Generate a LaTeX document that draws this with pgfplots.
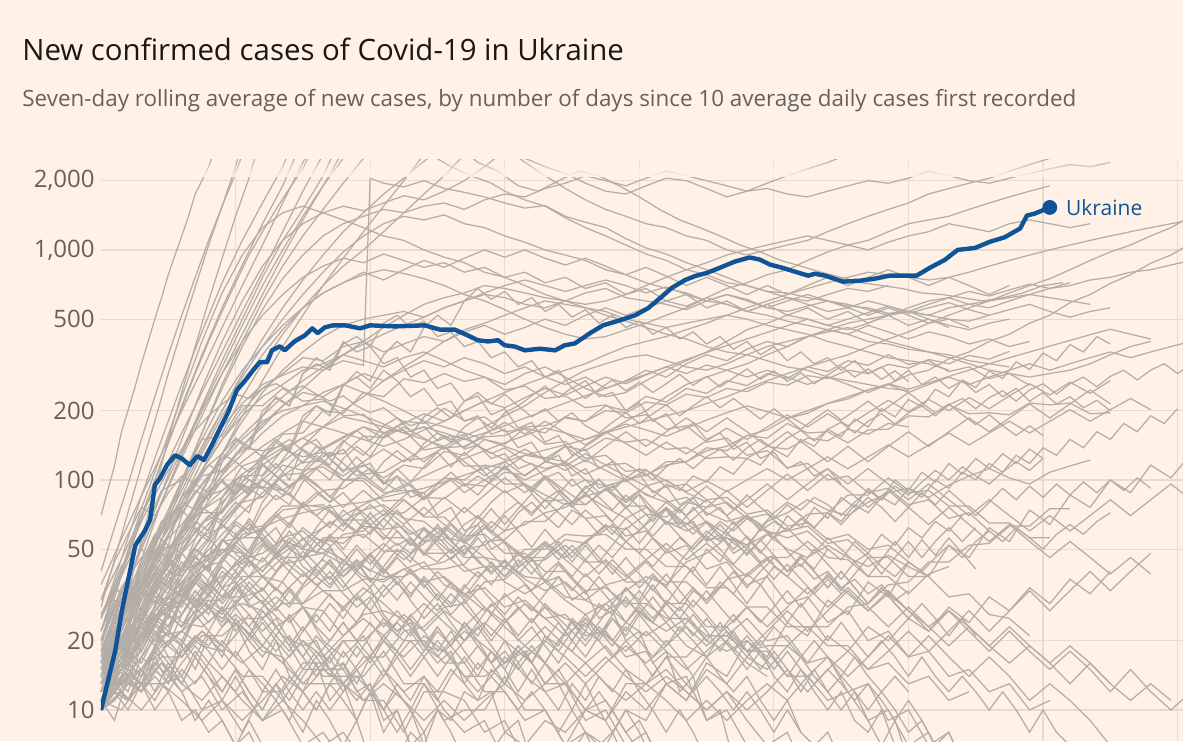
\documentclass[border=0pt]{standalone}
\usepackage{pgfplots}
\pgfplotsset{compat=1.18}
\usepackage{fontspec}
\setmainfont{Open Sans}
\usetikzlibrary{fadings}
\definecolor{bgc}{HTML}{FFF1E5}
\definecolor{grayc}{HTML}{B4ADA7}
\definecolor{gridc}{HTML}{E7DBCF}
\definecolor{tickc}{HTML}{66605C}
\definecolor{titlec}{HTML}{1A1817}
\definecolor{ukc}{HTML}{0F5499}
\pgfplotsset{gl/.style={color=grayc, line width=0.62pt, no markers}}
\begin{document}
\begin{tikzpicture}
\fill[bgc] (0,0) rectangle (591.5pt,370.5pt);
\useasboundingbox (0,0) rectangle (591.5pt,370.5pt);
\node[anchor=base west, inner sep=0pt, text=titlec, font=\fontsize{14.7}{18}\selectfont] at (11pt,340.5pt) {New confirmed cases of Covid-19 in Ukraine};
\node[anchor=base west, inner sep=0pt, text=tickc, font=\fontsize{11.2}{13}\selectfont] at (11pt,317pt) {Seven-day rolling average of new cases, by number of days since 10 average daily cases first recorded};
\begin{axis}[
  at={(50.5pt,0pt)}, anchor=south west,
  scale only axis, width=541pt, height=290.5pt,
  xmin=0, xmax=160.8,
  ymode=log, ymin=7.33, ymax=2460,
  axis line style={draw=none},
  tick style={draw=none},
  xtick={20,40,60,80,100,120,140,160}, xticklabels={},
  ytick={10,20,50,100,200,500,1000,2000},
  yticklabels={10,20,50,100,200,500,{1,000},{2,000}},
  yticklabel style={font=\fontsize{12}{12}\selectfont, text=tickc, anchor=east, inner sep=0pt, xshift=-3pt},
  grid=major, major grid style={color=gridc, line width=0.6pt},
  clip=true,
]
% --- steep risers
\addplot[gl] coordinates {(0,70)(1,90)(2,115)(3,160)(4,200)(5,250)(6,320)(7,400)(8,500)(9,620)(10,780)(11,950)(12,1150)(13,1400)(14,1750)(15,2000)(16,2300)(17,2800)};
\addplot[gl] coordinates {(0,28)(2,45)(4,72)(6,115)(8,180)(10,290)(12,450)(14,690)(16,1050)(18,1550)(20,2300)(21,2900)};
\addplot[gl] coordinates {(0,12)(2,19)(4,32)(6,55)(8,90)(10,150)(12,240)(14,380)(16,600)(18,920)(20,1400)(22,2050)(23,2600)};
\addplot[gl] coordinates {(0,20)(3,38)(6,68)(9,120)(12,210)(15,350)(18,560)(21,860)(24,1300)(27,1900)(29,2600)};
\addplot[gl] coordinates {(0,15)(3,26)(6,45)(9,80)(12,130)(15,210)(18,330)(21,500)(24,760)(27,1100)(30,1500)(33,2100)(35,2800)};
\addplot[gl] coordinates {(0,11)(3,17)(6,30)(9,55)(12,95)(15,160)(18,260)(21,400)(24,600)(27,850)(30,1150)(33,1500)(36,1950)(39,2500)(40,2800)};
\addplot[gl] coordinates {(0,18)(3,30)(6,52)(9,88)(12,150)(15,250)(18,400)(21,600)(24,850)(27,1100)(30,1300)(33,1450)(36,1550)(39,1480)(42,1600)(45,1720)(48,1650)(51,1800)(54,2000)(57,2300)(60,2700)};
\addplot[gl] coordinates {(0,25)(3,45)(6,85)(9,150)(12,260)(15,440)(18,720)(21,1100)(24,1600)(27,2300)(28,2700)};
\addplot[gl] coordinates {(0,13)(3,20)(6,32)(9,50)(12,75)(15,110)(18,160)(21,230)(24,320)(27,430)(30,560)(33,700)(36,850)(39,1000)(42,1200)(45,1450)(48,1750)(51,2100)(54,2600)};
\addplot[gl] coordinates {(0,40)(2,62)(4,95)(6,150)(8,230)(10,350)(12,520)(14,760)(16,1100)(18,1550)(20,2150)(21,2600)};
\addplot[gl] coordinates {(0,22)(2,32)(4,48)(6,70)(8,100)(10,145)(12,205)(14,290)(16,400)(18,540)(20,720)(22,950)(24,1200)(26,1500)(28,1850)(30,2250)(31,2600)};
\addplot[gl] coordinates {(0,10)(3,15)(6,24)(9,38)(12,58)(15,88)(18,130)(21,190)(24,270)(27,380)(30,520)(33,700)(36,920)(39,1200)(42,1550)(45,2000)(48,2600)};
\addplot[gl] coordinates {(0,17)(3,26)(6,40)(9,60)(12,90)(15,135)(18,200)(21,290)(24,410)(27,560)(30,740)(33,950)(36,1200)(39,1450)(42,1750)(45,2050)(47,2300)(50,2700)};
\addplot[gl] coordinates {(0,16)(3,25)(6,40)(9,62)(12,95)(15,140)(18,200)(21,280)(24,380)(27,500)(30,640)(33,800)(36,980)(39,1150)(42,1300)(45,1400)(48,1350)(51,1420)(54,1300)(57,1250)(60,1150)(63,1080)(66,1000)(69,950)(72,900)(75,820)(78,780)(81,720)(84,680)(87,650)(90,600)(93,580)(96,540)(99,520)(102,490)(105,470)(108,450)(111,430)(114,400)(117,390)(120,370)(123,360)(126,350)(129,330)(132,320)(135,310)};
% --- peak above and decline
\addplot[gl] coordinates {(0,30)(3,45)(6,70)(9,105)(12,160)(15,240)(18,360)(21,540)(24,800)(27,1200)(30,1800)(33,2600)(36,3400)(40,3600)(44,3200)(48,2700)(52,2300)(55,2100)(58,1950)(60,1800)(63,1650)(66,1550)(69,1380)(72,1250)(75,1150)(78,1050)(81,960)(84,900)(87,820)(90,780)(93,720)(96,700)(99,660)(102,650)(105,620)(108,600)(111,570)(114,560)(117,530)(120,540)(123,520)(126,560)(129,580)(132,600)(135,620)(138,640)(141,680)(144,700)(147,740)(150,760)(153,800)(156,820)(159,860)(162,900)};
\addplot[gl] coordinates {(0,20)(3,32)(6,50)(9,80)(12,125)(15,190)(18,290)(21,430)(24,640)(27,940)(30,1350)(33,1900)(36,2700)(40,3800)(45,4500)(50,4000)(55,3400)(60,2800)(63,2400)(66,2100)(69,1850)(72,1650)(75,1500)(78,1400)(81,1300)(84,1250)(87,1150)(90,1100)(93,1000)(96,950)(99,1000)(102,1050)(105,1100)(108,1200)(111,1300)(114,1400)(117,1500)(120,1600)(123,1750)(126,1850)(129,1950)(132,2050)(135,2200)(138,2350)(141,2500)(144,2700)};
\addplot[gl] coordinates {(0,35)(3,55)(6,85)(9,130)(12,200)(15,300)(18,460)(21,700)(24,1050)(27,1600)(30,2400)(33,3400)(40,4500)(50,3800)(56,3200)(60,2800)(63,2500)(66,2300)(69,2150)(72,1950)(75,1800)(78,1750)(81,1900)(84,2050)(87,2000)(90,1850)(93,1700)(96,1800)(99,1950)(102,2100)(105,2250)(108,2400)(111,2600)(114,2800)};
\addplot[gl] coordinates {(0,25)(3,38)(6,58)(9,88)(12,135)(15,205)(18,310)(21,470)(24,700)(27,1000)(30,1400)(33,1900)(36,2500)(40,3300)(45,3800)(50,3200)(54,2700)(56,2400)(59,2200)(62,1900)(65,1800)(68,2000)(71,2200)(74,2100)(77,1900)(80,1700)(83,1500)(86,1350)(89,1250)(92,1150)(95,1050)(98,980)(101,900)(104,850)(107,800)(110,760)(113,720)(116,700)(119,680)(122,650)(125,640)(128,620)(131,600)(134,620)(137,650)(140,700)(143,720)};
% --- high band / spike / second wave
\addplot[gl] coordinates {(0,10)(3,16)(6,28)(9,48)(12,80)(15,120)(18,170)(21,215)(24,260)(27,285)(30,310)(33,300)(36,330)(39,315)(40,2050)(42,1950)(45,1880)(48,2000)(51,1850)(54,1780)(57,1700)(60,1600)(63,1520)(66,1560)(69,1400)(72,1320)(75,1250)(78,1120)(81,1020)(84,960)(87,880)(90,820)(93,760)(96,700)(99,660)(102,620)(105,600)(108,640)(111,680)(114,660)(117,700)};
\addplot[gl] coordinates {(0,14)(3,22)(6,36)(9,60)(12,100)(15,160)(18,250)(21,380)(24,550)(27,750)(30,950)(33,1150)(36,1300)(39,1400)(42,1500)(45,1450)(48,1550)(51,1600)(54,1500)(57,1650)(60,1750)(63,1700)(66,1850)(69,1950)(72,2100)(75,2000)(78,1900)(81,2050)(84,2200)(87,2100)(90,2000)(93,1900)(96,1800)(99,1850)(102,1750)(105,1700)(108,1800)(111,1900)(114,2000)(117,1950)(120,2050)(123,2200)(126,2100)(129,2000)(132,1950)(135,2050)(138,2150)(141,2250)(144,2350)(147,2300)(150,2400)};
\addplot[gl] coordinates {(0,22)(3,40)(6,75)(9,130)(12,230)(15,400)(18,650)(21,950)(24,1250)(27,1450)(30,1550)(33,1450)(36,1350)(39,1250)(42,1150)(45,1100)(48,1000)(51,930)(54,880)(57,800)(60,760)(63,700)(66,640)(69,600)(72,560)(75,520)(78,490)(81,460)(84,430)(87,410)(90,380)(93,360)(96,350)(99,330)(102,310)(105,300)(108,280)(111,270)(114,260)(117,250)(120,245)};
\addplot[gl] coordinates {(0,12)(3,20)(6,34)(9,55)(12,85)(15,130)(18,190)(21,260)(24,350)(27,450)(30,560)(33,650)(36,720)(39,780)(42,820)(45,790)(48,750)(51,700)(54,640)(57,600)(60,550)(63,500)(66,460)(69,430)(72,410)(75,420)(78,450)(81,480)(84,520)(87,560)(90,620)(93,680)(96,720)(99,780)(102,820)(105,900)(108,980)(111,1050)(114,1100)(117,1200)(120,1300)(123,1350)(126,1400)(129,1500)(132,1600)(135,1700)(138,1800)(141,1900)};
\addplot[gl] coordinates {(0,18)(3,30)(6,50)(9,80)(12,130)(15,200)(18,290)(21,400)(24,520)(27,640)(30,760)(33,850)(36,920)(39,880)(42,960)(45,900)(48,840)(51,880)(54,800)(57,840)(60,760)(63,800)(66,720)(69,760)(72,680)(75,720)(78,640)(81,680)(84,600)(87,640)(90,560)(93,600)(96,540)(99,580)(102,520)(105,560)(108,500)(111,540)(114,480)(117,520)(120,470)(123,500)(126,460)};
\addplot[gl] coordinates {(0,14)(3,24)(6,40)(9,64)(12,100)(15,150)(18,220)(21,300)(24,380)(27,470)(30,560)(33,650)(36,720)(39,800)(42,740)(45,820)(48,900)(51,840)(54,920)(57,1000)(60,930)(63,1000)(66,920)(69,860)(72,920)(75,850)(78,780)(81,840)(84,770)(87,700)(90,760)(93,700)(96,640)(99,700)(102,640)(105,700)(108,760)(111,700)(114,760)(117,820)(120,760)(123,700)(126,760)(129,700)(132,640)(135,700)};
% --- mid band
\addplot[gl] coordinates {(0,10)(3,15)(6,24)(9,38)(12,60)(15,90)(18,130)(21,180)(24,240)(27,300)(30,360)(33,420)(36,470)(39,500)(42,520)(45,540)(48,510)(51,560)(54,600)(57,640)(60,620)(63,580)(66,560)(69,600)(72,650)(75,680)(78,620)(81,600)(84,580)(87,550)(90,600)(93,640)(96,610)(99,560)(102,540)(105,570)(108,600)(111,580)(114,550)(117,520)(120,560)(123,600)(126,620)(129,580)(132,560)(135,600)(138,640)(141,620)(144,600)(147,580)};
\addplot[gl] coordinates {(0,14)(3,22)(6,35)(9,55)(12,80)(15,110)(18,150)(21,190)(24,230)(27,260)(30,300)(33,320)(36,350)(39,330)(42,310)(45,340)(48,360)(51,330)(54,300)(57,280)(60,260)(63,290)(66,310)(69,280)(72,250)(75,230)(78,240)(81,270)(84,300)(87,330)(90,360)(93,400)(96,450)(99,480)(102,520)(105,500)(108,470)(111,450)(114,480)(117,520)(120,540)(123,500)(126,470)(129,450)(132,480)(135,500)};
\addplot[gl] coordinates {(0,11)(3,17)(6,27)(9,40)(12,58)(15,80)(18,105)(21,130)(24,160)(27,190)(30,210)(33,240)(36,260)(39,240)(42,220)(45,200)(48,180)(51,170)(54,160)(57,150)(60,140)(63,130)(66,125)(69,120)(72,140)(75,160)(78,180)(81,200)(84,230)(87,260)(90,280)(93,300)(96,320)(99,350)(102,380)(105,420)(108,450)(111,480)(114,500)(117,520)(120,540)(123,520)(126,500)(129,490)(132,520)};
\addplot[gl] coordinates {(0,12)(3,18)(6,28)(9,42)(12,62)(15,85)(18,110)(21,140)(24,170)(27,210)(30,250)(33,300)(36,350)(39,400)(42,460)(45,520)(48,580)(51,620)(54,650)(57,700)(60,680)(63,650)(66,620)(69,600)(72,580)(75,600)(78,640)(81,700)(84,760)(87,820)(90,880)(93,950)(96,1000)(99,1050)(102,1100)(105,1150)(108,1100)(111,1050)(114,1000)(117,1080)(120,1150)(123,1200)(126,1300)(129,1250)(132,1200)(135,1300)(138,1350)(141,1300)(144,1250)(147,1300)};
\addplot[gl] coordinates {(0,16)(3,25)(6,38)(9,55)(12,75)(15,95)(18,120)(21,150)(24,180)(27,200)(30,210)(33,220)(36,205)(39,190)(42,175)(45,160)(48,150)(51,140)(54,155)(57,170)(60,190)(63,210)(66,240)(69,270)(72,300)(75,320)(78,340)(81,350)(84,330)(87,310)(90,300)(93,320)(96,350)(99,380)(102,400)(105,420)(108,440)(111,460)(114,430)(117,400)(120,380)(123,360)(126,340)(129,320)(132,300)(135,290)(138,280)(141,290)(144,300)(147,320)(150,350)(153,380)(156,400)};
\addplot[gl] coordinates {(0,10)(3,14)(6,20)(9,28)(12,38)(15,50)(18,65)(21,80)(24,100)(27,120)(30,140)(33,170)(36,200)(39,230)(42,270)(45,310)(48,350)(51,400)(54,450)(57,480)(60,520)(63,560)(66,600)(69,580)(72,560)(75,540)(78,500)(81,480)(84,460)(87,480)(90,500)(93,520)(96,500)(99,470)(102,450)(105,430)(108,400)(111,380)(114,360)(117,340)(120,330)(123,320)(126,300)};
\addplot[gl] coordinates {(0,13)(3,20)(6,30)(9,44)(12,60)(15,80)(18,100)(21,120)(24,140)(27,160)(30,180)(33,170)(36,160)(39,150)(42,140)(45,150)(48,165)(51,180)(54,200)(57,220)(60,240)(63,260)(66,280)(69,300)(72,320)(75,350)(78,380)(81,400)(84,420)(87,450)(90,480)(93,520)(96,560)(99,600)(102,640)(105,680)(108,720)(111,760)(114,800)(117,780)(120,760)(123,740)(126,760)(129,800)(132,850)(135,900)(138,950)(141,1000)(144,1050)(147,1100)(150,1150)(153,1200)(156,1250)(159,1300)(162,1350)};
\addplot[gl] coordinates {(0,12)(3,20)(6,32)(9,50)(12,75)(15,110)(18,150)(21,200)(24,250)(27,290)(30,340)(33,330)(36,380)(39,400)(42,360)(45,390)(48,420)(51,400)(54,440)(57,470)(60,430)(63,460)(66,500)(69,470)(72,520)(75,560)(78,520)(81,560)(84,600)(87,570)(90,620)(93,580)(96,540)(99,580)(102,620)(105,580)(108,540)(111,560)(114,600)(117,570)(120,530)(123,560)(126,590)(129,550)(132,520)(135,550)(138,580)(141,540)(144,510)(147,540)(150,560)};
\addplot[gl] coordinates {(0,10)(3,16)(6,24)(9,38)(12,55)(15,78)(18,105)(21,140)(24,175)(27,210)(30,240)(33,230)(36,260)(39,290)(42,270)(45,300)(48,330)(51,310)(54,340)(57,320)(60,290)(63,310)(66,280)(69,260)(72,280)(75,250)(78,270)(81,300)(84,280)(87,320)(90,350)(93,330)(96,370)(99,400)(102,380)(105,420)(108,450)(111,430)(114,470)(117,440)(120,410)(123,440)(126,420)(129,390)(132,410)(135,380)(138,400)};
\addplot[gl] coordinates {(0,15)(3,24)(6,36)(9,52)(12,72)(15,96)(18,124)(21,156)(24,190)(27,230)(30,270)(33,310)(36,350)(39,390)(42,430)(45,470)(48,510)(51,560)(54,600)(57,650)(60,700)(63,740)(66,700)(69,660)(72,700)(75,740)(78,700)(81,650)(84,690)(87,640)(90,600)(93,640)(96,600)(99,560)(102,600)(105,640)(108,600)(111,560)(114,520)(117,560)(120,520)(123,480)(126,500)(129,460)};
\addplot[gl] coordinates {(0,11)(3,15)(6,21)(9,28)(12,36)(15,46)(18,58)(21,72)(24,88)(27,104)(30,120)(33,138)(36,154)(39,170)(42,160)(45,176)(48,194)(51,180)(54,200)(57,220)(60,206)(63,228)(66,250)(69,234)(72,256)(75,280)(78,262)(81,286)(84,310)(87,290)(90,316)(93,300)(96,280)(99,300)(102,280)(105,260)(108,280)(111,260)(114,240)(117,260)(120,240)(123,260)(126,280)(129,260)(132,280)(135,300)(138,320)(141,300)(144,320)(147,340)(150,360)(153,340)(156,360)(159,380)(162,400)};
\addplot[gl] coordinates {(0,13)(3,19)(6,27)(9,38)(12,50)(15,64)(18,80)(21,98)(24,116)(27,134)(30,152)(33,170)(36,188)(39,180)(42,170)(45,160)(48,170)(51,160)(54,150)(57,160)(60,172)(63,186)(66,200)(69,216)(72,232)(75,250)(78,268)(81,288)(84,310)(87,334)(90,358)(93,384)(96,410)(99,438)(102,468)(105,500)(108,470)(111,500)(114,534)(117,570)(120,540)(123,580)(126,620)(129,660)(132,630)(135,670)(138,710)(141,680)(144,720)};
\addplot[gl] coordinates {(0,10)(3,12)(6,15)(9,18)(12,22)(15,26)(18,31)(21,36)(24,42)(27,48)(30,55)(33,62)(36,70)(39,78)(42,86)(45,95)(48,104)(51,114)(54,124)(57,134)(60,145)(63,156)(66,168)(69,160)(72,150)(75,162)(78,175)(81,165)(84,155)(87,168)(90,182)(93,196)(96,210)(99,198)(102,186)(105,200)(108,215)(111,230)(114,246)(117,262)(120,248)(123,264)(126,282)(129,300)(132,320)(135,340)(138,360)(141,382)(144,404)(147,428)(150,452)(153,430)(156,410)};
\addplot[gl] coordinates {(0,10)(3,13)(6,17)(9,22)(12,26)(15,34)(18,38)(21,45)(24,48)(27,55)(30,50)(33,48)(36,43)(39,42)(42,38)(45,38)(48,42)(51,44)(54,50)(57,52)(60,60)(63,64)(66,72)(69,76)(72,85)(75,90)(78,100)(81,105)(84,116)(87,120)(90,134)(93,140)(96,156)(99,165)(102,185)(105,195)(108,215)(111,225)(114,246)(117,260)(120,286)(123,300)(126,336)(129,360)(132,400)(135,430)(138,480)(141,520)(144,590)(147,640)(150,715)(153,780)(156,875)(159,950)(162,1070)};
\addplot[gl] coordinates {(0,11)(3,15)(6,20)(9,26)(12,33)(15,40)(18,48)(21,56)(24,62)(27,68)(30,72)(33,75)(36,78)(39,80)(42,84)(45,88)(48,92)(51,98)(54,105)(57,112)(60,120)(63,128)(66,135)(69,142)(72,150)(75,160)(78,170)(81,180)(84,190)(87,200)(90,215)(93,230)(96,250)(99,270)(102,290)(105,310)(108,330)(111,350)(114,380)(117,410)(120,440)(123,480)(126,520)(129,560)(132,600)(135,650)(138,700)(141,750)(144,820)(147,900)(150,980)(153,1050)(156,1150)(159,1250)(162,1400)};
% --- low band
\addplot[gl] coordinates {(0,10)(3,15)(6,13)(9,22)(12,19)(15,30)(18,26)(21,35)(24,29)(27,24)(30,28)(33,20)(36,17)(39,21)(42,15)(45,12)(48,14)(51,10)(54,8)(57,9)(60,6)};
\addplot[gl] coordinates {(0,12)(3,18)(6,26)(9,22)(12,35)(15,42)(18,55)(21,48)(24,44)(27,56)(30,60)(33,50)(36,45)(39,38)(42,36)(45,41)(48,44)(51,35)(54,32)(57,27)(60,31)(63,35)(66,28)(69,25)(72,23)(75,29)(78,33)(81,38)(84,35)(87,44)(90,48)(93,56)(96,52)(99,66)(102,72)(105,82)(108,74)(111,70)(114,80)(117,88)(120,92)(123,84)(126,95)(129,104)(132,112)(135,102)(138,96)(141,108)(144,115)(147,122)};
\addplot[gl] coordinates {(0,15)(3,25)(6,34)(9,52)(12,64)(15,84)(18,90)(21,104)(24,93)(27,90)(30,78)(33,76)(36,66)(39,74)(42,78)(45,68)(48,66)(51,56)(54,54)(57,46)(60,44)(63,38)(66,37)(69,31)(72,30)(75,35)(78,37)(81,44)(84,36)(87,36)(90,30)(93,37)(96,39)(99,46)(102,46)(105,54)(108,46)(111,45)(114,38)(117,38)(120,32)(123,39)(126,42)};
\addplot[gl] coordinates {(0,10)(3,13)(6,15)(9,19)(12,22)(15,19)(18,18)(21,14)(24,14)(27,11)(30,15)(33,15)(36,15)(39,11)(42,11)(45,8)(48,12)(51,12)(54,11)(57,8)(60,9)(63,6)};
\addplot[gl] coordinates {(0,11)(3,16)(6,23)(9,29)(12,40)(15,44)(18,54)(21,56)(24,56)(27,46)(30,46)(33,48)(36,58)(39,60)(42,71)(45,72)(48,84)(51,83)(54,96)(57,94)(60,108)(63,105)(66,120)(69,115)(72,130)(75,116)(78,118)(81,104)(84,120)(87,120)(90,138)(93,134)(96,156)(99,152)(102,176)(105,160)(108,162)(111,145)(114,165)(117,166)(120,190)(123,188)(126,212)(129,194)(132,196)(135,192)(138,216)(141,212)(144,216)(147,194)(150,196)};
\addplot[gl] coordinates {(0,18)(3,27)(6,32)(9,31)(12,24)(15,23)(18,27)(21,29)(24,27)(27,21)(30,19)(33,14)(36,14)(39,14)(42,18)(45,13)(48,13)(51,9)(54,10)(57,10)(60,14)(63,10)(66,10)(69,7)(72,8)(75,5)};
\addplot[gl] coordinates {(0,13)(3,18)(6,21)(9,30)(12,33)(15,44)(18,48)(21,61)(24,63)(27,77)(30,77)(33,78)(36,67)(39,67)(42,56)(45,56)(48,48)(51,48)(54,40)(57,42)(60,42)(63,50)(66,50)(69,58)(72,57)(75,58)(78,50)(81,50)(84,42)(87,42)(90,34)(93,34)(96,28)(99,28)(102,23)(105,23)(108,19)(111,19)(114,15)(117,16)(120,13)(123,14)(126,11)(129,12)};
\addplot[gl] coordinates {(0,10)(3,15)(6,18)(9,26)(12,29)(15,39)(18,31)(21,31)(24,33)(27,43)(30,45)(33,56)(36,56)(39,58)(42,49)(45,49)(48,41)(51,41)(54,43)(57,54)(60,55)(63,66)(66,66)(69,79)(72,78)(75,91)(78,77)(81,77)(84,65)(87,65)(90,55)(93,56)(96,48)(99,58)(102,60)(105,71)(108,72)(111,86)(114,86)(117,102)(120,88)(123,90)(126,77)(129,77)(132,65)(135,65)(138,56)(141,56)};
\addplot[gl] coordinates {(0,16)(3,30)(6,42)(9,66)(12,76)(15,104)(18,110)(21,138)(24,134)(27,141)(30,119)(33,121)(36,100)(39,99)(42,81)(45,82)(48,69)(51,69)(54,57)(57,58)(60,48)(63,48)(66,40)(69,40)(72,33)(75,34)(78,29)(81,29)(84,25)(87,25)(90,21)(93,21)(96,18)(99,19)(102,19)(105,23)(108,23)(111,28)(114,29)(117,35)(120,36)(123,44)(126,44)(129,52)(132,53)(135,63)(138,63)(141,75)(144,75)};
\addplot[gl] coordinates {(0,20)(3,34)(6,46)(9,44)(12,34)(15,46)(18,50)(21,48)(24,38)(27,36)(30,28)(33,27)(36,21)(39,26)(42,27)(45,25)(48,19)(51,18)(54,14)(57,14)(60,16)(63,18)(66,13)(69,13)(72,9)(75,10)(78,7)(81,8)(84,5)};
\addplot[gl] coordinates {(0,10)(3,14)(6,15)(9,21)(12,22)(15,30)(18,30)(21,38)(24,38)(27,46)(30,46)(33,55)(36,53)(39,63)(42,61)(45,63)(48,54)(51,55)(54,46)(57,46)(60,38)(63,46)(66,46)(69,55)(72,53)(75,63)(78,61)(81,71)(84,69)(87,80)(90,76)(93,80)(96,68)(99,71)(102,60)(105,63)(108,53)(111,55)(114,46)(117,46)(120,38)(123,38)(126,31)(129,32)(132,26)(135,25)(138,21)};
\addplot[gl] coordinates {(0,14)(3,21)(6,26)(9,37)(12,42)(15,57)(18,62)(21,80)(24,84)(27,105)(30,107)(33,130)(36,130)(39,155)(42,153)(45,180)(48,176)(51,205)(54,181)(57,188)(60,162)(63,167)(66,143)(69,147)(72,124)(75,128)(78,109)(81,111)(84,93)(87,96)(90,82)(93,84)(96,71)(99,74)(102,63)(105,65)(108,55)(111,58)(114,50)(117,52)(120,44)};
\addplot[gl] coordinates {(0,11)(3,10)(6,13)(9,13)(12,14)(15,10)(18,11)(21,8)(24,12)(27,12)(30,16)(33,16)(36,20)(39,20)(42,24)(45,20)(48,20)(51,16)(54,16)(57,12)(60,12)(63,9)(66,10)(69,7)(72,10)(75,9)(78,13)(81,13)(84,17)(87,17)(90,21)(93,21)(96,25)(99,20)(102,21)(105,16)(108,17)(111,12)(114,13)(117,9)(120,10)(123,7)(126,8)(129,5)};
\addplot[gl] coordinates {(0,25)(3,42)(6,56)(9,90)(12,100)(15,150)(18,155)(21,210)(24,210)(27,250)(30,220)(33,225)(36,190)(39,193)(42,160)(45,165)(48,135)(51,140)(54,115)(57,115)(60,96)(63,96)(66,81)(69,82)(72,68)(75,70)(78,57)(81,60)(84,48)(87,52)(90,41)(93,44)(96,35)(99,38)(102,29)(105,31)(108,24)(111,27)(114,20)(117,22)(120,17)(123,18)(126,14)(129,15)(132,12)(135,13)(138,10)(141,11)};
\addplot[gl] coordinates {(0,10)(3,16)(6,20)(9,34)(12,40)(15,65)(18,72)(21,104)(24,105)(27,136)(30,126)(33,132)(36,110)(39,116)(42,102)(45,116)(48,112)(51,133)(54,128)(57,150)(60,143)(63,168)(66,160)(69,188)(72,180)(75,210)(78,200)(81,231)(84,218)(87,250)(90,238)(93,270)(96,257)(99,290)(102,276)(105,310)(108,296)(111,330)(114,315)(117,350)(120,318)(123,330)(126,296)(129,310)(132,276)(135,290)(138,258)};
\addplot[gl] coordinates {(0,12)(3,17)(6,20)(9,28)(12,32)(15,29)(18,25)(21,23)(24,18)(27,17)(30,13)(33,13)(36,13)(39,17)(42,17)(45,22)(48,23)(51,28)(54,29)(57,36)(60,37)(63,44)(66,45)(69,52)(72,44)(75,44)(78,36)(81,36)(84,29)(87,29)(90,23)(93,23)(96,18)(99,18)(102,14)(105,14)(108,11)(111,12)(114,9)(117,10)(120,7)(123,8)(126,5)};
\addplot[gl] coordinates {(0,17)(3,28)(6,34)(9,50)(12,53)(15,72)(18,72)(21,94)(24,92)(27,116)(30,110)(33,114)(36,100)(39,102)(42,88)(45,90)(48,88)(51,102)(54,100)(57,116)(60,112)(63,128)(66,124)(69,140)(72,134)(75,152)(78,146)(81,150)(84,136)(87,138)(90,124)(93,126)(96,124)(99,140)(102,136)(105,152)(108,148)(111,166)(114,158)(117,176)(120,170)};
\addplot[gl] coordinates {(0,10)(3,13)(6,13)(9,17)(12,17)(15,21)(18,21)(21,25)(24,25)(27,29)(30,29)(33,33)(36,33)(39,37)(42,37)(45,41)(48,36)(51,38)(54,32)(57,34)(60,28)(63,30)(66,25)(69,26)(72,21)(75,22)(78,17)(81,18)(84,13)(87,14)(90,9)(93,10)(96,7)(99,6)};
\addplot[gl] coordinates {(0,13)(3,21)(6,25)(9,40)(12,48)(15,74)(18,84)(21,115)(24,124)(27,158)(30,160)(33,200)(36,195)(39,240)(42,230)(45,275)(48,265)(51,290)(54,268)(57,280)(60,246)(63,256)(66,226)(69,232)(72,206)(75,212)(78,186)(81,192)(84,166)(87,172)(90,146)(93,152)(96,128)(99,134)(102,113)(105,118)(108,100)(111,104)(114,88)(117,92)(120,78)(123,82)(126,68)(129,72)(132,60)};
\addplot[gl] coordinates {(0,10)(3,15)(6,18)(9,27)(12,30)(15,42)(18,44)(21,58)(24,60)(27,74)(30,76)(33,90)(36,92)(39,106)(42,108)(45,122)(48,124)(51,138)(54,140)(57,154)(60,156)(63,170)(66,172)(69,186)(72,180)(75,200)(78,196)(81,218)(84,212)(87,236)(90,228)(93,250)(96,242)(99,266)(102,258)(105,284)(108,276)(111,300)(114,290)(117,318)(120,306)(123,334)(126,320)(129,348)(132,335)(135,362)};
\addplot[gl] coordinates {(0,18)(2,26)(4,35)(6,32)(8,44)(10,52)(12,48)(14,60)(16,70)(18,64)(20,58)(22,66)(24,54)(26,48)(28,52)(30,42)(32,38)(34,44)(36,36)(38,30)(40,34)(42,26)(44,22)(46,25)(48,19)(50,16)(52,18)(54,13)(56,11)(58,12)(60,8)(62,9)(64,6)};
\addplot[gl] coordinates {(0,10)(2,12)(4,16)(6,14)(8,19)(10,22)(12,20)(14,26)(16,30)(18,27)(20,34)(22,38)(24,33)(26,40)(28,45)(30,40)(32,35)(34,38)(36,32)(38,28)(40,31)(42,25)(44,22)(46,24)(48,19)(50,17)(52,20)(54,23)(56,19)(58,16)(60,18)(63,14)(66,12)(69,13)(72,10)(75,11)(78,8)(81,6)};
\addplot[gl] coordinates {(0,14)(2,22)(4,30)(6,42)(8,56)(10,66)(12,80)(14,74)(16,90)(18,98)(20,86)(22,100)(24,92)(26,82)(28,88)(30,76)(32,70)(34,78)(36,66)(38,60)(40,68)(42,58)(44,52)(46,56)(48,48)(50,44)(52,50)(54,42)(56,38)(58,42)(60,36)(63,32)(66,36)(69,30)(72,26)(75,29)(78,24)(81,21)(84,24)(87,19)(90,17)(93,20)(96,16)(99,14)};
\addplot[gl] coordinates {(0,12)(2,19)(4,28)(6,38)(8,52)(10,66)(12,84)(14,100)(16,116)(18,108)(20,128)(22,140)(24,126)(26,138)(28,150)(30,134)(32,120)(34,132)(36,118)(38,104)(40,112)(42,98)(44,90)(46,96)(48,84)(50,92)(52,100)(54,88)(56,96)(58,104)(60,112)(63,100)(66,110)(69,120)(72,106)(75,116)(78,104)(81,94)(84,100)(87,88)(90,80)};
\addplot[gl] coordinates {(0,22)(2,34)(4,48)(6,66)(8,86)(10,110)(12,136)(14,164)(16,190)(18,214)(20,236)(22,226)(24,250)(26,262)(28,244)(30,256)(32,236)(34,220)(36,232)(38,210)(40,196)(42,206)(44,186)(46,172)(48,180)(50,160)(52,150)(54,158)(56,140)(58,130)(60,138)(63,120)(66,112)(69,118)(72,100)(75,94)(78,100)(81,86)(84,80)(87,84)(90,72)(93,66)(96,70)(99,60)(102,56)(105,60)(108,50)};
\addplot[gl] coordinates {(0,16)(2,22)(4,20)(6,27)(8,24)(10,31)(12,28)(14,36)(16,32)(18,40)(20,36)(22,30)(24,34)(26,28)(28,24)(30,28)(32,23)(34,20)(36,24)(38,20)(40,17)(42,21)(44,18)(46,15)(48,18)(50,22)(52,19)(54,24)(56,21)(58,26)(60,23)(63,19)(66,23)(69,19)(72,16)(75,19)(78,15)(81,13)(84,15)(87,12)(90,10)(93,12)(96,9)(99,7)(102,8)(105,5)};
\addplot[gl] coordinates {(0,11)(2,14)(4,18)(6,16)(8,21)(10,26)(12,23)(14,29)(16,35)(18,31)(20,38)(22,45)(24,40)(26,48)(28,56)(30,50)(32,58)(34,66)(36,60)(38,70)(40,78)(42,70)(44,80)(46,90)(48,82)(50,92)(52,102)(54,94)(56,104)(58,96)(60,88)(63,96)(66,86)(69,78)(72,86)(75,76)(78,68)(81,76)(84,66)(87,60)(90,66)(93,58)(96,52)(99,58)(102,50)(105,46)(108,52)(111,46)(114,42)(117,47)(120,42)(123,38)};
\addplot[gl] coordinates {(0,30)(2,44)(4,58)(6,76)(8,70)(10,88)(12,104)(14,96)(16,116)(18,130)(20,120)(22,108)(24,118)(26,104)(28,94)(30,102)(32,90)(34,80)(36,88)(38,76)(40,68)(42,74)(44,64)(46,58)(48,62)(50,54)(52,48)(54,52)(56,44)(58,40)(60,44)(63,37)(66,33)(69,36)(72,30)(75,27)(78,30)(81,25)(84,22)(87,25)(90,20)(93,18)(96,20)(99,16)};
\addplot[gl] coordinates {(0,12)(2,17)(4,15)(6,24)(8,30)(10,27)(12,42)(14,50)(16,46)(18,68)(20,80)(22,72)(24,104)(26,118)(28,100)(30,140)(32,150)(34,126)(36,136)(38,112)(40,118)(42,96)(44,104)(46,84)(48,88)(50,70)(52,76)(54,60)(56,64)(58,50)(60,54)(62,42)(64,46)(66,36)(68,38)(70,30)(72,33)(74,25)(76,27)(78,20)(80,22)(82,16)(84,18)(86,12)(88,14)(90,9)(92,10)(94,6)};
\addplot[gl] coordinates {(0,10)(2,14)(4,13)(6,19)(8,24)(10,21)(12,30)(14,36)(16,31)(18,44)(20,58)(22,48)(24,55)(26,62)(28,50)(30,46)(32,56)(34,52)(36,40)(38,44)(40,36)(42,42)(44,50)(46,44)(48,56)(50,62)(52,54)(54,48)(56,58)(58,66)(60,60)(62,72)(64,80)(66,70)(68,62)(70,74)(72,68)(74,58)(76,64)(78,54)(80,48)(82,56)(84,50)(86,44)(88,52)(90,60)(92,54)(94,62)(96,70)(98,64)(100,56)(102,62)(104,54)(106,48)(108,56)(110,50)(112,44)(114,48)(116,42)(118,38)(120,44)(122,40)(124,46)(126,52)(128,46)(130,54)(132,60)(134,54)(136,62)(138,56)(140,50)(142,58)(144,64)(146,58)(148,66)(150,72)};
\addplot[gl] coordinates {(0,11)(2,9)(4,14)(6,12)(8,17)(10,13)(12,19)(14,15)(16,21)(18,17)(20,24)(22,18)(24,15)(26,20)(28,14)(30,12)(32,16)(34,11)(36,13)(38,9)(40,12)(42,8)(44,10)(46,7)(48,8)(50,5)};
\addplot[gl] coordinates {(0,15)(2,22)(4,20)(6,32)(8,38)(10,34)(12,52)(14,62)(16,56)(18,84)(20,98)(22,90)(24,130)(26,150)(28,136)(30,190)(32,210)(34,196)(36,260)(38,280)(40,250)(42,300)(44,270)(46,230)(48,250)(50,210)(52,220)(54,180)(56,190)(58,158)(60,166)(62,138)(64,146)(66,120)(68,128)(70,104)(72,112)(74,92)(76,96)(78,80)(80,86)(82,70)(84,74)(86,62)(88,66)(90,54)(92,58)(94,48)(96,52)(98,44)(100,47)(102,40)(104,43)(106,37)(108,40)(110,34)(112,37)(114,32)(116,35)(118,30)(120,33)};
\addplot[gl] coordinates {(0,10)(2,12)(4,15)(6,13)(8,18)(10,22)(12,19)(14,25)(16,28)(18,24)(20,30)(22,26)(24,22)(26,25)(28,20)(30,17)(32,21)(34,18)(36,15)(38,19)(40,16)(42,20)(44,24)(46,21)(48,27)(50,32)(52,28)(54,34)(56,40)(58,35)(60,42)(62,38)(64,33)(66,39)(68,44)(70,38)(72,45)(74,52)(76,46)(78,54)(80,48)(82,42)(84,49)(86,56)(88,50)(90,58)(92,66)(94,60)(96,68)(98,62)(100,72)(102,80)(104,74)(106,84)(108,78)(110,70)(112,80)(114,90)(116,82)(118,94)(120,86)(122,98)(124,110)(126,100)(128,114)(130,104)(132,96)(134,108)(136,120)(138,110)(140,124)};
\addplot[gl] coordinates {(0,20)(2,30)(4,28)(6,44)(8,58)(10,52)(12,80)(14,96)(16,88)(18,130)(20,152)(22,140)(24,200)(26,226)(28,210)(30,290)(32,320)(34,300)(36,390)(38,420)(40,380)(42,480)(44,520)(46,460)(48,490)(50,420)(52,440)(54,380)(56,400)(58,340)(60,360)(62,310)(64,330)(66,280)(68,300)(70,250)(72,270)(74,230)(76,240)(78,200)(80,216)(82,180)(84,194)(86,164)(88,176)(90,150)(92,160)(94,136)(96,146)(98,124)(100,132)(102,112)(104,120)(106,104)(108,112)(110,96)};
\addplot[gl] coordinates {(0,14)(2,18)(4,16)(6,22)(8,19)(10,26)(12,23)(14,30)(16,26)(18,34)(20,29)(22,36)(24,31)(26,27)(28,33)(30,28)(32,24)(34,29)(36,25)(38,31)(40,27)(42,33)(44,38)(46,32)(48,37)(50,31)(52,26)(54,30)(56,25)(58,21)(60,25)(62,20)(64,23)(66,19)(68,16)(70,20)(72,17)(74,21)(76,25)(78,21)(80,26)(82,22)(84,19)(86,23)(88,20)(90,17)(92,21)(94,18)(96,15)(98,18)(100,14)(102,12)(104,15)(106,12)(108,10)(110,12)(112,9)(114,8)(116,10)(118,7)(120,6)};
\addplot[gl] coordinates {(0,16)(2,24)(4,22)(6,34)(8,42)(10,38)(12,56)(14,66)(16,60)(18,84)(20,96)(22,88)(24,116)(26,104)(28,92)(30,106)(32,96)(34,84)(36,98)(38,112)(40,100)(42,90)(44,104)(46,94)(48,82)(50,96)(52,108)(54,96)(56,86)(58,100)(60,114)(62,102)(64,90)(66,104)(68,92)(70,80)(72,94)(74,84)(76,74)(78,86)(80,76)(82,66)(84,76)(86,66)(88,58)(90,66)(92,58)(94,50)(96,57)(98,49)(100,43)};
\addplot[gl] coordinates {(0,10)(2,12)(4,11)(6,14)(8,16)(10,14)(12,18)(14,21)(16,19)(18,23)(20,26)(22,23)(24,28)(26,31)(28,28)(30,34)(32,38)(34,34)(36,40)(38,45)(40,40)(42,48)(44,53)(46,48)(48,56)(50,62)(52,55)(54,64)(56,70)(58,62)(60,72)(62,80)(64,72)(66,82)(68,90)(70,80)(72,92)(74,100)(76,90)(78,102)(80,112)(82,100)(84,114)(86,124)(88,112)(90,126)(92,136)(94,122)(96,138)(98,150)(100,136)(102,152)(104,164)(106,148)(108,166)(110,178)(112,160)(114,180)(116,194)(118,175)(120,196)(122,210)(124,190)(126,212)(128,226)(130,204)(132,228)(134,244)(136,220)(138,246)(140,262)(142,236)(144,262)(146,280)(148,254)(150,282)(152,300)(154,272)(156,300)(158,320)(160,290)(162,318)};
\addplot[gl] coordinates {(0,18)(2,26)(4,24)(6,34)(8,40)(10,36)(12,44)(14,38)(16,42)(18,34)(20,36)(22,28)(24,30)(26,23)(28,25)(30,19)(32,20)(34,15)(36,16)(38,12)(40,13)(42,9)(44,10)(46,7)(48,6)};
\addplot[gl] coordinates {(0,12)(2,16)(4,15)(6,21)(8,26)(10,23)(12,31)(14,37)(16,33)(18,44)(20,52)(22,46)(24,60)(26,70)(28,62)(30,78)(32,88)(34,80)(36,98)(38,110)(40,100)(42,120)(44,134)(46,120)(48,144)(50,160)(52,146)(54,170)(56,186)(58,168)(60,196)(62,210)(64,188)(66,204)(68,180)(70,196)(72,172)(74,160)(76,178)(78,196)(80,176)(82,194)(84,212)(86,190)(88,210)(90,230)(92,206)(94,226)(96,204)(98,184)(100,204)(102,184)(104,166)(106,184)(108,202)(110,182)(112,200)(114,220)(116,198)(118,218)(120,240)(122,216)(124,196)(126,214)(128,192)(130,174)(132,192)(134,172)(136,156)(138,172)(140,156)};
\addplot[gl] coordinates {(0,25)(2,34)(4,31)(6,40)(8,36)(10,45)(12,40)(14,50)(16,44)(18,55)(20,48)(22,42)(24,52)(26,46)(28,40)(30,49)(32,43)(34,37)(36,45)(38,39)(40,34)(42,41)(44,36)(46,31)(48,38)(50,33)(52,29)(54,35)(56,30)(58,26)(60,32)(62,28)(64,24)(66,29)(68,25)(70,22)(72,26)(74,22)(76,19)(78,23)(80,20)(82,17)(84,20)(86,17)(88,14)(90,17)(92,14)(94,12)(96,14)(98,11)(100,9)(102,11)(104,8)};
\addplot[gl] coordinates {(0,13)(2,20)(4,18)(6,28)(8,36)(10,32)(12,48)(14,60)(16,54)(18,78)(20,96)(22,86)(24,122)(26,146)(28,132)(30,180)(32,210)(34,190)(36,256)(38,296)(40,270)(42,350)(44,400)(46,360)(48,460)(50,520)(52,470)(54,600)(56,680)(58,610)(60,660)(62,580)(64,620)(66,540)(68,580)(70,510)(72,550)(74,480)(76,520)(78,460)(80,490)(82,430)(84,460)(86,410)(88,440)(90,390)(92,420)(94,370)(96,400)(98,350)(100,380)(102,330)(104,360)(106,320)(108,340)(110,300)(112,330)(114,290)(116,310)(118,270)(120,300)(122,260)(124,280)(126,250)(128,270)(130,240)(132,260)(134,230)(136,250)(138,220)(140,240)(142,214)(144,230)(146,206)(148,222)(150,200)};
\addplot[gl] coordinates {(0,10)(2,11)(4,13)(6,12)(8,14)(10,12)(12,15)(14,13)(16,16)(18,14)(20,12)(22,15)(24,13)(26,11)(28,14)(30,12)(32,10)(34,13)(36,11)(38,9)(40,12)(42,10)(44,13)(46,11)(48,14)(50,12)(52,15)(54,13)(56,16)(58,14)(60,17)(62,15)(64,18)(66,16)(68,20)(70,18)(72,22)(74,20)(76,25)(78,22)(80,27)(82,24)(84,30)(86,27)(88,33)(90,30)(92,36)(94,32)(96,39)(98,35)(100,42)(102,38)(104,46)(106,41)(108,50)(110,45)(112,54)(114,48)(116,58)(118,52)(120,62)(122,56)(124,66)(126,60)(128,70)};
\addplot[gl] coordinates {(0,11)(2,15)(4,14)(6,20)(8,25)(10,22)(12,31)(14,38)(16,34)(18,46)(20,54)(22,48)(24,62)(26,72)(28,64)(30,80)(32,70)(34,62)(36,74)(38,66)(40,58)(42,68)(44,60)(46,52)(48,62)(50,56)(52,66)(54,76)(56,68)(58,80)(60,90)(62,80)(64,70)(66,82)(68,72)(70,64)(72,74)(74,66)(76,58)(78,68)(80,60)(82,70)(84,80)(86,72)(88,84)(90,94)(92,84)(94,74)(96,86)(98,76)(100,68)(102,78)(104,70)(106,62)(108,72)(110,64)(112,74)(114,84)(116,76)(118,66)(120,76)(122,88)(124,78)(126,90)(128,80)(130,70)(132,80)(134,92)(136,82)(138,94)(140,84)(142,96)(144,86)(146,98)(148,88)(150,100)(152,90)(154,102)(156,92)};
\addplot[gl] coordinates {(0,17)(2,26)(4,24)(6,38)(8,50)(10,46)(12,70)(14,90)(16,82)(18,120)(20,150)(22,136)(24,190)(26,230)(28,210)(30,290)(32,340)(34,310)(36,400)(38,360)(40,380)(42,320)(44,340)(46,280)(48,300)(50,250)(52,264)(54,220)(56,232)(58,192)(60,204)(62,168)(64,178)(66,146)(68,156)(70,128)(72,136)(74,112)(76,120)(78,98)(80,106)(82,88)(84,94)(86,78)(88,84)(90,70)(92,76)(94,64)(96,70)(98,60)(100,66)(102,60)(104,68)(106,62)(108,72)(110,66)(112,78)(114,72)(116,84)(118,78)(120,92)(122,84)(124,100)(126,92)(128,108)(130,100)(132,118)(134,108)(136,128)(138,118)(140,138)(142,128)(144,150)(146,138)(148,162)(150,150)(152,176)(154,162)(156,190)(158,176)(160,204)};
\addplot[gl] coordinates {(0,22)(2,30)(4,28)(6,36)(8,32)(10,38)(12,33)(14,28)(16,32)(18,27)(20,22)(22,26)(24,21)(26,18)(28,21)(30,17)(32,14)(34,17)(36,13)(38,11)(40,13)(42,10)(44,8)(46,10)(48,7)(50,6)};
\addplot[gl] coordinates {(0,14)(2,19)(4,18)(6,25)(8,31)(10,28)(12,38)(14,46)(16,41)(18,54)(20,64)(22,58)(24,74)(26,86)(28,78)(30,98)(32,112)(34,100)(36,124)(38,140)(40,126)(42,154)(44,172)(46,156)(48,188)(50,206)(52,186)(54,220)(56,240)(58,214)(60,236)(62,210)(64,232)(66,256)(68,228)(70,252)(72,226)(74,248)(76,272)(78,244)(80,266)(82,240)(84,262)(86,288)(88,258)(90,282)(92,254)(94,278)(96,304)(98,274)(100,298)(102,268)(104,292)(106,262)(108,286)(110,312)(112,280)(114,304)(116,274)(118,298)(120,268)};
\addplot[gl] coordinates {(0,10)(2,13)(4,11)(6,15)(8,12)(10,16)(12,13)(14,17)(16,14)(18,12)(20,15)(22,12)(24,10)(26,13)(28,10)(30,8)(32,11)(34,9)(36,7)(38,9)(40,6)};
\addplot[gl] coordinates {(0,11)(2,16)(4,15)(6,22)(8,28)(10,25)(12,35)(14,44)(16,40)(18,54)(20,66)(22,60)(24,80)(26,96)(28,86)(30,110)(32,128)(34,116)(36,146)(38,164)(40,148)(42,172)(44,186)(46,164)(48,170)(50,148)(52,156)(54,136)(56,142)(58,124)(60,130)(62,112)(64,118)(66,102)(68,108)(70,94)(72,100)(74,88)(76,94)(78,82)(80,90)(82,84)(84,96)(86,90)(88,104)(90,98)(92,114)(94,106)(96,124)(98,116)(100,136)(102,126)(104,150)(106,140)(108,166)(110,154)(112,184)(114,170)(116,204)(118,188)(120,224)(122,208)(124,248)(126,230)(128,272)(130,252)(132,298)(134,276)(136,326)(138,302)(140,356)(142,330)(144,388)(146,360)(148,420)(150,390)};
\addplot[gl] coordinates {(0,10)(2,12)(4,11)(6,13)(8,10)(10,12)(12,9)(14,10)(16,8)(18,9)(20,7)(22,8)(24,6)(26,5)(28,4)(30,4)(32,5)(34,4)(36,5)(38,6)(40,5)(42,7)(44,6)(46,8)(48,7)(50,10)(52,9)(54,12)(56,11)(58,15)(60,13)(62,18)(64,16)(66,21)(68,19)(70,25)(72,22)(74,29)(76,26)(78,34)(80,30)(82,38)(84,34)(86,44)(88,40)(90,50)(92,44)(94,56)(96,50)(98,62)(100,56)(102,70)(104,62)(106,76)(108,68)(110,84)(112,76)(114,92)(116,82)(118,100)(120,90)(122,108)(124,98)(126,118)(128,106)(130,124)(132,112)(134,130)(136,118)(138,136)(140,124)};
\addplot[gl] coordinates {(0,12)(3,15)(6,13)(9,16)(12,12)(15,14)(18,10)(21,12)(24,9)(27,10)(30,7)(33,8)(36,6)(39,5)(42,4)(45,5)(48,4)(51,5)(54,4)(57,5)(60,6)(63,5)(66,7)(69,6)(72,8)(75,7)(78,10)(81,9)(84,13)(87,11)(90,16)(93,14)(96,20)(99,17)(102,24)(105,21)(108,30)(111,26)(114,36)(117,31)(120,44)(123,38)(126,52)(129,46)(132,62)(135,54)(138,74)(141,64)(144,86)(147,76)(150,100)(153,88)(156,116)(159,102)(162,130)};
% --- extra bottom-heavy lines
\addplot[gl] coordinates {(0,10)(2,13)(4,11)(6,15)(8,18)(10,15)(12,20)(14,17)(16,22)(18,19)(20,25)(22,21)(24,27)(26,23)(28,19)(30,23)(32,19)(34,16)(36,20)(38,17)(40,21)(42,25)(44,21)(46,26)(48,22)(50,18)(52,22)(54,18)(56,15)(58,18)(60,15)(62,12)(64,15)(66,12)(68,10)(70,13)(72,11)(74,14)(76,12)(78,15)(80,12)(82,10)(84,8)(86,10)(88,8)(90,6)};
\addplot[gl] coordinates {(0,13)(2,17)(4,22)(6,19)(8,26)(10,23)(12,30)(14,26)(16,22)(18,28)(20,24)(22,20)(24,17)(26,21)(28,18)(30,22)(32,26)(34,22)(36,28)(38,24)(40,30)(42,35)(44,30)(46,36)(48,31)(50,27)(52,32)(54,28)(56,24)(58,29)(60,25)(62,21)(64,25)(66,21)(68,18)(70,22)(72,19)(74,23)(76,20)(78,24)(80,28)(82,24)(84,29)(86,25)(88,30)(90,26)(92,22)(94,26)(96,22)(98,19)(100,23)(102,20)(104,17)(106,20)(108,17)(110,14)(112,17)(114,14)(116,12)(118,14)(120,12)};
\addplot[gl] coordinates {(0,16)(2,21)(4,19)(6,25)(8,22)(10,17)(12,14)(14,18)(16,15)(18,12)(20,15)(22,12)(24,10)(26,13)(28,11)(30,14)(32,17)(34,14)(36,18)(38,15)(40,12)(42,15)(44,12)(46,10)(48,8)(50,10)(52,8)(54,6)};
\addplot[gl] coordinates {(0,11)(2,14)(4,18)(6,23)(8,20)(10,26)(12,32)(14,28)(16,35)(18,42)(20,37)(22,44)(24,38)(26,33)(28,40)(30,35)(32,42)(34,50)(36,44)(38,52)(40,45)(42,39)(44,46)(46,40)(48,34)(50,40)(52,35)(54,30)(56,35)(58,30)(60,26)(62,31)(64,27)(66,32)(68,38)(70,33)(72,39)(74,34)(76,29)(78,34)(80,29)(82,25)(84,29)(86,25)(88,21)(90,25)(92,21)(94,18)(96,21)(98,18)(100,15)(102,18)(104,15)(106,13)(108,15)(110,13)(112,11)(114,13)(116,11)(118,9)(120,11)(122,9)(124,7)(126,8)(128,6)};
\addplot[gl] coordinates {(0,14)(2,12)(4,16)(6,14)(8,19)(10,16)(12,13)(14,17)(16,14)(18,11)(20,14)(22,11)(24,9)(26,11)(28,9)(30,12)(32,10)(34,13)(36,16)(38,13)(40,17)(42,14)(44,18)(46,22)(48,18)(50,23)(52,19)(54,24)(56,20)(58,16)(60,20)(62,16)(64,13)(66,16)(68,13)(70,10)(72,13)(74,10)(76,8)(78,10)(80,8)(82,6)};
\addplot[gl] coordinates {(0,10)(2,14)(4,12)(6,17)(8,22)(10,19)(12,26)(14,33)(16,28)(18,36)(20,44)(22,38)(24,46)(26,40)(28,48)(30,56)(32,48)(34,56)(36,48)(38,41)(40,48)(42,41)(44,35)(46,41)(48,35)(50,30)(52,36)(54,31)(56,37)(58,44)(60,38)(62,45)(64,39)(66,46)(68,54)(70,46)(72,54)(74,46)(76,39)(78,46)(80,39)(82,33)(84,39)(86,33)(88,28)(90,33)(92,28)(94,24)(96,28)(98,24)(100,28)(102,33)(104,28)(106,33)(108,39)(110,33)(112,39)(114,46)(116,39)(118,46)(120,54)(122,46)(124,54)(126,62)(128,54)(130,62)};
\addplot[gl] coordinates {(0,12)(2,16)(4,21)(6,18)(8,24)(10,31)(12,26)(14,33)(16,28)(18,23)(20,28)(22,23)(24,19)(26,23)(28,19)(30,15)(32,18)(34,15)(36,12)(38,15)(40,12)(42,10)(44,12)(46,10)(48,13)(50,11)(52,14)(54,17)(56,14)(58,18)(60,15)(62,19)(64,16)(66,20)(68,24)(70,20)(72,25)(74,21)(76,26)(78,31)(80,26)(82,31)(84,26)(86,22)(88,26)(90,22)(92,18)(94,22)(96,18)(98,15)(100,18)(102,15)(104,12)(106,15)(108,12)(110,10)(112,12)(114,9)(116,7)(118,9)(120,6)};
\addplot[gl] coordinates {(0,20)(2,27)(4,35)(6,30)(8,38)(10,46)(12,40)(14,48)(16,56)(18,48)(20,56)(22,64)(24,55)(26,47)(28,54)(30,46)(32,39)(34,45)(36,38)(38,44)(40,37)(42,31)(44,36)(46,30)(48,25)(50,29)(52,24)(54,20)(56,23)(58,19)(60,16)(62,19)(64,16)(66,13)(68,15)(70,12)(72,10)(74,12)(76,10)(78,8)(80,9)(82,7)(84,6)};
\addplot[gl] coordinates {(0,10)(2,11)(4,14)(6,12)(8,15)(10,13)(12,16)(14,19)(16,16)(18,20)(20,17)(22,21)(24,25)(26,21)(28,26)(30,22)(32,27)(34,32)(36,27)(38,32)(40,27)(42,23)(44,27)(46,23)(48,19)(50,23)(52,19)(54,16)(56,19)(58,16)(60,13)(62,16)(64,19)(66,16)(68,20)(70,24)(72,20)(74,24)(76,29)(78,24)(80,29)(82,35)(84,29)(86,35)(88,42)(90,35)(92,42)(94,35)(96,29)(98,35)(100,29)(102,24)(104,29)(106,24)(108,20)(110,24)(112,20)(114,17)(116,20)(118,17)(120,14)(122,17)(124,14)(126,12)(128,14)(130,12)(132,10)(134,12)(136,10)(138,8)(140,10)(142,8)(144,7)};
\addplot[gl] coordinates {(0,15)(2,20)(4,26)(6,34)(8,29)(10,38)(12,48)(14,41)(16,52)(18,64)(20,55)(22,68)(24,58)(26,50)(28,60)(30,51)(32,62)(34,74)(36,63)(38,75)(40,64)(42,55)(44,65)(46,56)(48,48)(50,57)(52,49)(54,58)(56,69)(58,59)(60,70)(62,60)(64,51)(66,61)(68,52)(70,44)(72,52)(74,44)(76,52)(78,62)(80,53)(82,63)(84,75)(86,64)(88,76)(90,65)(92,56)(94,66)(96,56)(98,48)(100,57)(102,49)(104,42)(106,50)(108,43)(110,37)(112,44)(114,38)(116,45)(118,54)(120,46)(122,55)(124,47)(126,56)(128,48)(130,41)};
\addplot[gl] coordinates {(0,10)(2,12)(4,10)(6,13)(8,11)(10,14)(12,12)(14,9)(16,11)(18,9)(20,7)(22,9)(24,7)(26,6)};
\addplot[gl] coordinates {(0,12)(2,15)(4,19)(6,24)(8,21)(10,27)(12,34)(14,29)(16,37)(18,46)(20,40)(22,50)(24,62)(26,53)(28,65)(30,56)(32,48)(34,58)(36,50)(38,60)(40,72)(42,62)(44,74)(46,63)(48,54)(50,64)(52,55)(54,47)(56,56)(58,48)(60,41)(62,49)(64,42)(66,36)(68,43)(70,37)(72,32)(74,38)(76,32)(78,28)(80,33)(82,28)(84,24)(86,28)(88,24)(90,20)(92,24)(94,20)(96,17)(98,20)(100,17)(102,14)(104,17)(106,14)(108,12)(110,14)(112,12)(114,10)(116,12)(118,10)(120,8)(122,9)(124,7)(126,6)};
\addplot[gl] coordinates {(0,26)(2,34)(4,30)(6,38)(8,33)(10,28)(12,33)(14,28)(16,24)(18,28)(20,24)(22,20)(24,24)(26,20)(28,17)(30,20)(32,17)(34,20)(36,24)(38,20)(40,24)(42,20)(44,17)(46,20)(48,17)(50,14)(52,17)(54,14)(56,12)(58,14)(60,12)(62,10)(64,12)(66,10)(68,8)(70,10)(72,8)(74,7)(76,8)(78,6)};
\addplot[gl] coordinates {(0,12)(3,18)(6,26)(9,36)(12,48)(15,60)(18,74)(21,88)(24,100)(27,90)(30,104)(33,118)(36,104)(39,120)(42,136)(45,120)(48,138)(51,156)(54,138)(57,158)(60,178)(63,158)(66,180)(69,160)(72,142)(75,162)(78,144)(81,128)(84,146)(87,130)(90,148)(93,168)(96,150)(99,170)(102,192)(105,170)(108,194)(111,172)(114,196)(117,222)(120,198)(123,224)(126,200)(129,228)(132,204)(135,232)(138,262)(141,234)(144,266)(147,238)(150,270)};
\addplot[gl] coordinates {(0,15)(3,22)(6,32)(9,44)(12,58)(15,74)(18,90)(21,106)(24,122)(27,138)(30,152)(33,136)(36,152)(39,170)(42,152)(45,170)(48,152)(51,136)(54,152)(57,136)(60,122)(63,136)(66,122)(69,110)(72,122)(75,110)(78,99)(81,110)(84,99)(87,89)(90,99)(93,89)(96,100)(99,112)(102,100)(105,112)(108,126)(111,112)(114,126)(117,142)(120,126)(123,142)(126,160)(129,142)(132,160)(135,180)(138,160)(141,180)(144,202)(147,180)(150,202)(153,226)(156,202)};
\addplot[gl] coordinates {(0,11)(3,14)(6,12)(9,16)(12,13)(15,11)(18,14)(21,11)(24,9)(27,11)(30,9)(33,7)(36,8)(39,6)(42,5)(45,6)(48,5)(51,6)(54,7)(57,6)(60,8)(63,7)(66,9)(69,8)(72,10)(75,9)(78,12)(81,10)(84,13)(87,11)(90,15)(93,13)(96,17)(99,15)(102,19)(105,16)(108,21)(111,18)(114,23)(117,20)(120,25)(123,22)(126,28)(129,24)(132,31)(135,27)(138,34)(141,29)(144,37)(147,32)(150,40)};
\addplot[gl] coordinates {(0,18)(2,24)(4,31)(6,27)(8,35)(10,44)(12,38)(14,47)(16,40)(18,34)(20,40)(22,34)(24,29)(26,34)(28,29)(30,35)(32,41)(34,35)(36,42)(38,50)(40,43)(42,51)(44,60)(46,52)(48,61)(50,52)(52,45)(54,52)(56,45)(58,39)(60,45)(62,39)(64,45)(66,52)(68,45)(70,52)(72,45)(74,39)(76,45)(78,39)(80,34)(82,39)(84,34)(86,29)(88,34)(90,29)(92,34)(94,40)(96,34)(98,40)(100,46)(102,40)(104,46)(106,40)(108,34)(110,40)(112,34)(114,29)(116,34)(118,29)(120,25)};
\addplot[gl] coordinates {(0,10)(2,12)(4,15)(6,13)(8,16)(10,20)(12,17)(14,21)(16,18)(18,15)(20,18)(22,15)(24,12)(26,15)(28,12)(30,10)(32,12)(34,10)(36,12)(38,14)(40,12)(42,14)(44,17)(46,14)(48,17)(50,20)(52,17)(54,20)(56,24)(58,20)(60,24)(62,28)(64,24)(66,28)(68,24)(70,20)(72,24)(74,20)(76,17)(78,20)(80,17)(82,14)(84,17)(86,14)(88,12)(90,14)(92,12)(94,10)(96,12)(98,10)(100,8)(102,10)(104,8)(106,7)(108,8)(110,6)};
\addplot[gl] coordinates {(0,19)(2,28)(4,38)(6,50)(8,44)(10,58)(12,74)(14,64)(16,82)(18,100)(20,88)(22,108)(24,128)(26,112)(28,134)(30,118)(32,140)(34,124)(36,108)(38,126)(40,110)(42,96)(44,112)(46,98)(48,114)(50,132)(52,114)(54,132)(56,116)(58,100)(60,116)(62,100)(64,88)(66,102)(68,88)(70,76)(72,88)(74,76)(76,66)(78,76)(80,66)(82,57)(84,66)(86,57)(88,50)(90,57)(92,50)(94,43)(96,50)(98,43)(100,37)(102,43)(104,37)(106,32)(108,37)(110,32)};
\addplot[gl] coordinates {(0,13)(2,18)(4,24)(6,21)(8,28)(10,36)(12,31)(14,40)(16,34)(18,29)(20,34)(22,29)(24,25)(26,29)(28,34)(30,29)(32,34)(34,40)(36,34)(38,40)(40,47)(42,40)(44,47)(46,55)(48,47)(50,55)(52,64)(54,55)(56,64)(58,75)(60,64)(62,75)(64,87)(66,75)(68,87)(70,101)(72,87)(74,101)(76,87)(78,75)(80,87)(82,75)(84,64)(86,75)(88,64)(90,55)(92,64)(94,55)(96,47)(98,55)(100,47)(102,40)(104,47)(106,40)(108,34)(110,40)(112,34)(114,29)(116,34)(118,29)(120,25)(122,29)(124,25)(126,21)(128,25)(130,21)};
% --- lower-right fill
\addplot[gl] coordinates {(0,10)(3,13)(6,17)(9,14)(12,18)(15,22)(18,18)(21,23)(24,19)(27,16)(30,20)(33,17)(36,21)(39,25)(42,21)(45,26)(48,22)(51,27)(54,23)(57,28)(60,24)(63,29)(66,25)(69,21)(72,25)(75,21)(78,18)(81,22)(84,18)(87,15)(90,18)(93,22)(96,18)(99,22)(102,27)(105,22)(108,27)(111,33)(114,27)(117,33)(120,27)(123,22)(126,27)(129,22)(132,18)(135,22)(138,18)(141,15)(144,18)(147,15)(150,12)(153,15)(156,12)(159,10)(162,12)};
\addplot[gl] coordinates {(0,12)(3,16)(6,21)(9,27)(12,23)(15,29)(18,25)(21,31)(24,38)(27,32)(30,39)(33,33)(36,28)(39,34)(42,29)(45,24)(48,29)(51,24)(54,20)(57,24)(60,20)(63,17)(66,20)(69,17)(72,14)(75,17)(78,14)(81,12)(84,14)(87,12)(90,10)(93,12)(96,10)(99,12)(102,15)(105,12)(108,15)(111,18)(114,15)(117,18)(120,22)(123,18)(126,22)(129,27)(132,22)(135,27)(138,33)(141,27)(144,33)(147,40)(150,33)(153,40)(156,48)};
\addplot[gl] coordinates {(0,14)(3,20)(6,27)(9,36)(12,31)(15,40)(18,50)(21,43)(24,53)(27,45)(30,38)(33,45)(36,38)(39,45)(42,53)(45,45)(48,53)(51,62)(54,53)(57,62)(60,53)(63,45)(66,53)(69,45)(72,38)(75,45)(78,38)(81,45)(84,53)(87,45)(90,53)(93,45)(96,38)(99,45)(102,38)(105,32)(108,38)(111,32)(114,27)(117,32)(120,27)(123,23)(126,27)(129,23)(132,19)(135,23)(138,19)(141,16)(144,19)(147,16)(150,13)};
\addplot[gl] coordinates {(0,11)(3,15)(6,20)(9,26)(12,34)(15,29)(18,37)(21,47)(24,40)(27,50)(30,62)(33,53)(36,65)(39,56)(42,68)(45,82)(48,70)(51,84)(54,72)(57,86)(60,102)(63,88)(66,104)(69,90)(72,78)(75,92)(78,80)(81,94)(84,82)(87,70)(90,82)(93,70)(96,82)(99,96)(102,82)(105,96)(108,112)(111,96)(114,112)(117,96)(120,82)(123,96)(126,82)(129,70)(132,82)(135,70)(138,60)(141,70)(144,60)(147,70)(150,82)(153,70)(156,82)(159,96)(162,82)};
\addplot[gl] coordinates {(0,10)(3,12)(6,10)(9,13)(12,11)(15,9)(18,11)(21,9)(24,11)(27,14)(30,12)(33,15)(36,13)(39,16)(42,20)(45,17)(48,21)(51,18)(54,22)(57,19)(60,16)(63,19)(66,16)(69,13)(72,16)(75,13)(78,11)(81,13)(84,11)(87,9)(90,11)(93,9)(96,11)(99,13)(102,11)(105,14)(108,17)(111,14)(114,17)(117,21)(120,17)(123,21)(126,17)(129,14)(132,17)(135,14)(138,11)(141,13)(144,11)(147,9)(150,7)};
\addplot[gl] coordinates {(0,16)(3,24)(6,34)(9,46)(12,60)(15,76)(18,66)(21,82)(24,100)(27,86)(30,104)(33,90)(36,76)(39,90)(42,76)(45,64)(48,76)(51,64)(54,54)(57,64)(60,54)(63,46)(66,54)(69,46)(72,54)(75,64)(78,54)(81,64)(84,76)(87,64)(90,76)(93,90)(96,76)(99,90)(102,106)(105,90)(108,106)(111,90)(114,76)(117,90)(120,76)(123,64)(126,76)(129,64)(132,54)(135,64)(138,54)(141,46)(144,54)(147,46)(150,39)(153,46)(156,39)};
\addplot[gl] coordinates {(0,13)(3,18)(6,15)(9,20)(12,17)(15,22)(18,19)(21,16)(24,19)(27,16)(30,13)(33,16)(36,13)(39,11)(42,13)(45,11)(48,9)(51,11)(54,9)(57,11)(60,13)(63,11)(66,13)(69,16)(72,13)(75,16)(78,19)(81,16)(84,19)(87,23)(90,19)(93,23)(96,28)(99,23)(102,28)(105,34)(108,28)(111,34)(114,28)(117,23)(120,28)(123,23)(126,19)(129,23)(132,19)(135,16)(138,19)(141,16)(144,13)(147,16)(150,13)(153,11)(156,13)(159,11)};
\addplot[gl] coordinates {(0,12)(3,17)(6,23)(9,31)(12,42)(15,56)(18,74)(21,96)(24,84)(27,108)(30,136)(33,118)(36,148)(39,128)(42,160)(45,138)(48,120)(51,140)(54,120)(57,104)(60,120)(63,104)(66,120)(69,140)(72,120)(75,140)(78,162)(81,140)(84,162)(87,186)(90,162)(93,186)(96,162)(99,140)(102,162)(105,140)(108,120)(111,140)(114,120)(117,140)(120,162)(123,140)(126,162)(129,186)(132,162)(135,186)(138,214)(141,186)(144,214)(147,246)(150,214)};
% --- Ukraine
\addplot[color=ukc, line width=2.2pt, no markers, line join=round] coordinates {
(0,10)(2.1,18)(3.1,27)(5.1,52)(6.5,60)(7.3,67)(8.0,95)(8.8,102)(9.8,116)(11.0,128)(12.0,124)(13.2,116)(14.3,127)(15.3,122)(16.5,142)(17.7,168)(18.9,197)(20.2,246)(21.4,270)(22.6,300)(23.6,325)(24.7,325)(25.4,366)(26.6,381)(27.3,366)(28.8,401)(30.3,425)(31.4,456)(32.2,435)(33.3,461)(34.5,470)(36.3,470)(38.5,456)(40.0,470)(43.7,465)(48.1,470)(50.4,450)(52.6,450)(54.5,425)(56.0,405)(57.5,400)(59.0,405)(60.0,385)(61.5,380)(63.0,366)(65.2,372)(67.5,366)(68.9,385)(70.4,392)(72.7,435)(74.6,470)(77.1,494)(79.4,520)(81.3,558)(83.1,618)(84.8,683)(86.8,740)(88.3,770)(90.0,794)(92.0,837)(94.2,890)(96.4,927)(97.9,908)(99.4,864)(101.2,837)(103.1,805)(105.1,773)(106.1,788)(107.6,773)(110.3,728)(112.8,735)(115.0,750)(117.2,773)(121.2,773)(123.2,837)(125.4,905)(127.3,1000)(129.9,1020)(132.1,1085)(134.3,1135)(136.6,1240)(137.6,1410)(138.8,1440)(141.0,1530)};
\addplot[color=ukc, only marks, mark=*, mark size=3.5pt] coordinates {(141.0,1530)};
\node[anchor=west, inner sep=0pt, text=ukc, font=\fontsize{10.5}{12}\selectfont, xshift=8pt] at (axis cs:141.0,1530) {Ukraine};
\end{axis}
\fill[bgc, path fading=north] (50.5pt,282pt) rectangle (591.5pt,291pt);
\end{tikzpicture}
\end{document}
